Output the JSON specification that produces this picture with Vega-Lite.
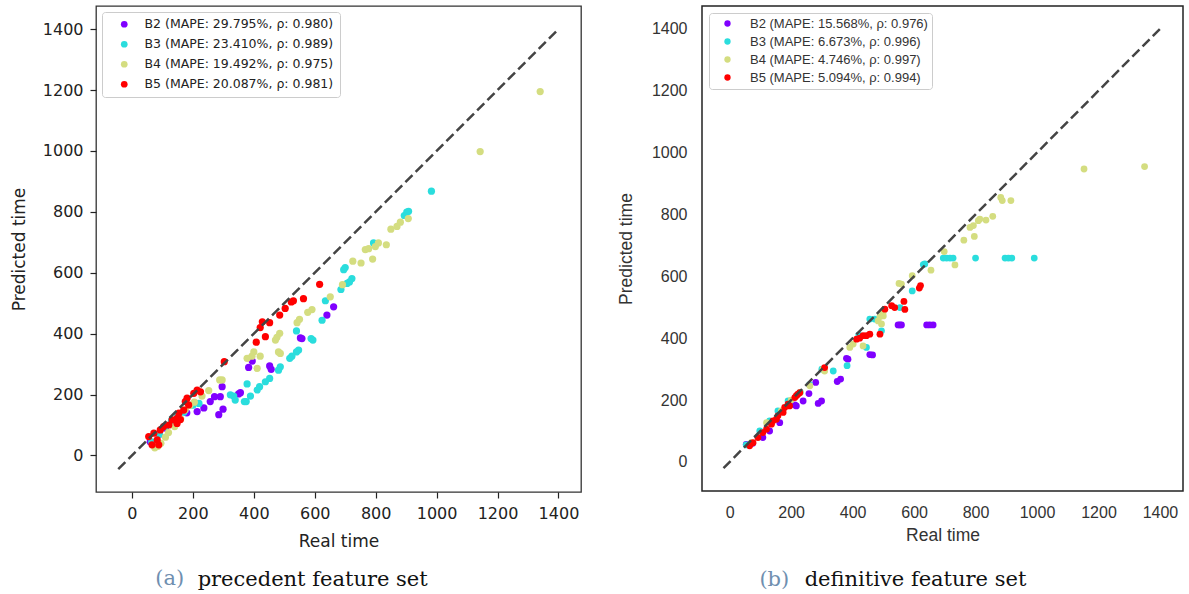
{
"$schema": "https://vega.github.io/schema/vega-lite/v6.json",
"background": "white",
"padding": {"left": 9, "top": 5, "right": 0, "bottom": 0},
"datasets": {
"a": [
{"x":662,"y":488,"s":"B2"},{"x":640,"y":461,"s":"B2"},{"x":553,"y":386,"s":"B2"},{"x":558,"y":384,"s":"B2"},{"x":395,"y":310,"s":"B2"},{"x":383,"y":289,"s":"B2"},{"x":452,"y":294,"s":"B2"},{"x":457,"y":283,"s":"B2"},{"x":356,"y":206,"s":"B2"},{"x":350,"y":202,"s":"B2"},{"x":296,"y":226,"s":"B2"},{"x":290,"y":193,"s":"B2"},{"x":271,"y":193,"s":"B2"},{"x":257,"y":177,"s":"B2"},{"x":236,"y":156,"s":"B2"},{"x":214,"y":144,"s":"B2"},{"x":299,"y":152,"s":"B2"},{"x":285,"y":134,"s":"B2"},{"x":60,"y":45,"s":"B2"},{"x":90,"y":70,"s":"B2"},{"x":110,"y":90,"s":"B2"},{"x":150,"y":115,"s":"B2"},{"x":180,"y":140,"s":"B2"},
{"x":983,"y":868,"s":"B3"},{"x":902,"y":799,"s":"B3"},{"x":908,"y":802,"s":"B3"},{"x":894,"y":788,"s":"B3"},{"x":793,"y":698,"s":"B3"},{"x":700,"y":617,"s":"B3"},{"x":695,"y":610,"s":"B3"},{"x":722,"y":581,"s":"B3"},{"x":714,"y":570,"s":"B3"},{"x":706,"y":565,"s":"B3"},{"x":686,"y":545,"s":"B3"},{"x":635,"y":508,"s":"B3"},{"x":624,"y":444,"s":"B3"},{"x":540,"y":409,"s":"B3"},{"x":588,"y":384,"s":"B3"},{"x":594,"y":379,"s":"B3"},{"x":547,"y":346,"s":"B3"},{"x":540,"y":340,"s":"B3"},{"x":525,"y":326,"s":"B3"},{"x":518,"y":319,"s":"B3"},{"x":487,"y":291,"s":"B3"},{"x":481,"y":280,"s":"B3"},{"x":452,"y":253,"s":"B3"},{"x":438,"y":242,"s":"B3"},{"x":419,"y":226,"s":"B3"},{"x":411,"y":215,"s":"B3"},{"x":389,"y":195,"s":"B3"},{"x":375,"y":177,"s":"B3"},{"x":369,"y":177,"s":"B3"},{"x":378,"y":235,"s":"B3"},{"x":334,"y":195,"s":"B3"},{"x":323,"y":199,"s":"B3"},{"x":339,"y":182,"s":"B3"},{"x":200,"y":165,"s":"B3"},{"x":220,"y":171,"s":"B3"},{"x":170,"y":142,"s":"B3"},{"x":150,"y":135,"s":"B3"},{"x":130,"y":115,"s":"B3"},{"x":110,"y":95,"s":"B3"},{"x":90,"y":70,"s":"B3"},{"x":65,"y":45,"s":"B3"},
{"x":1340,"y":1195,"s":"B4"},{"x":1143,"y":998,"s":"B4"},{"x":907,"y":778,"s":"B4"},{"x":881,"y":766,"s":"B4"},{"x":870,"y":752,"s":"B4"},{"x":850,"y":743,"s":"B4"},{"x":835,"y":692,"s":"B4"},{"x":809,"y":698,"s":"B4"},{"x":799,"y":686,"s":"B4"},{"x":777,"y":679,"s":"B4"},{"x":766,"y":676,"s":"B4"},{"x":790,"y":645,"s":"B4"},{"x":752,"y":632,"s":"B4"},{"x":725,"y":638,"s":"B4"},{"x":691,"y":561,"s":"B4"},{"x":651,"y":521,"s":"B4"},{"x":591,"y":479,"s":"B4"},{"x":577,"y":470,"s":"B4"},{"x":550,"y":447,"s":"B4"},{"x":542,"y":436,"s":"B4"},{"x":485,"y":401,"s":"B4"},{"x":476,"y":388,"s":"B4"},{"x":471,"y":379,"s":"B4"},{"x":481,"y":340,"s":"B4"},{"x":487,"y":335,"s":"B4"},{"x":400,"y":340,"s":"B4"},{"x":394,"y":326,"s":"B4"},{"x":378,"y":319,"s":"B4"},{"x":421,"y":326,"s":"B4"},{"x":411,"y":286,"s":"B4"},{"x":296,"y":248,"s":"B4"},{"x":288,"y":248,"s":"B4"},{"x":252,"y":213,"s":"B4"},{"x":230,"y":195,"s":"B4"},{"x":205,"y":175,"s":"B4"},{"x":190,"y":165,"s":"B4"},{"x":175,"y":150,"s":"B4"},{"x":160,"y":120,"s":"B4"},{"x":140,"y":95,"s":"B4"},{"x":120,"y":75,"s":"B4"},{"x":110,"y":60,"s":"B4"},{"x":95,"y":40,"s":"B4"},{"x":85,"y":30,"s":"B4"},{"x":75,"y":25,"s":"B4"},
{"x":616,"y":562,"s":"B5"},{"x":563,"y":515,"s":"B5"},{"x":523,"y":504,"s":"B5"},{"x":530,"y":508,"s":"B5"},{"x":503,"y":483,"s":"B5"},{"x":485,"y":461,"s":"B5"},{"x":452,"y":436,"s":"B5"},{"x":428,"y":439,"s":"B5"},{"x":421,"y":420,"s":"B5"},{"x":438,"y":390,"s":"B5"},{"x":408,"y":372,"s":"B5"},{"x":303,"y":308,"s":"B5"},{"x":225,"y":209,"s":"B5"},{"x":214,"y":215,"s":"B5"},{"x":203,"y":204,"s":"B5"},{"x":181,"y":188,"s":"B5"},{"x":175,"y":177,"s":"B5"},{"x":186,"y":166,"s":"B5"},{"x":170,"y":149,"s":"B5"},{"x":154,"y":139,"s":"B5"},{"x":148,"y":122,"s":"B5"},{"x":132,"y":117,"s":"B5"},{"x":121,"y":100,"s":"B5"},{"x":104,"y":95,"s":"B5"},{"x":93,"y":84,"s":"B5"},{"x":72,"y":73,"s":"B5"},{"x":55,"y":62,"s":"B5"},{"x":83,"y":51,"s":"B5"},{"x":66,"y":35,"s":"B5"},{"x":88,"y":35,"s":"B5"},{"x":148,"y":105,"s":"B5"},{"x":159,"y":118,"s":"B5"}
],
"b": [
{"x":554,"y":443,"s":"B2"},{"x":559,"y":443,"s":"B2"},{"x":548,"y":443,"s":"B2"},{"x":641,"y":443,"s":"B2"},{"x":651,"y":443,"s":"B2"},{"x":662,"y":443,"s":"B2"},{"x":456,"y":347,"s":"B2"},{"x":465,"y":346,"s":"B2"},{"x":385,"y":332,"s":"B2"},{"x":380,"y":335,"s":"B2"},{"x":361,"y":268,"s":"B2"},{"x":350,"y":260,"s":"B2"},{"x":299,"y":197,"s":"B2"},{"x":288,"y":189,"s":"B2"},{"x":280,"y":257,"s":"B2"},{"x":258,"y":221,"s":"B2"},{"x":239,"y":197,"s":"B2"},{"x":212,"y":184,"s":"B2"},{"x":163,"y":127,"s":"B2"},{"x":108,"y":79,"s":"B2"},{"x":54,"y":57,"s":"B2"},{"x":217,"y":181,"s":"B2"},{"x":130,"y":100,"s":"B2"},{"x":75,"y":60,"s":"B2"},
{"x":695,"y":659,"s":"B3"},{"x":706,"y":659,"s":"B3"},{"x":717,"y":659,"s":"B3"},{"x":727,"y":659,"s":"B3"},{"x":800,"y":659,"s":"B3"},{"x":896,"y":659,"s":"B3"},{"x":907,"y":659,"s":"B3"},{"x":918,"y":659,"s":"B3"},{"x":991,"y":659,"s":"B3"},{"x":630,"y":638,"s":"B3"},{"x":635,"y":640,"s":"B3"},{"x":594,"y":553,"s":"B3"},{"x":554,"y":499,"s":"B3"},{"x":494,"y":424,"s":"B3"},{"x":445,"y":370,"s":"B3"},{"x":382,"y":311,"s":"B3"},{"x":337,"y":294,"s":"B3"},{"x":456,"y":462,"s":"B3"},{"x":472,"y":462,"s":"B3"},{"x":190,"y":197,"s":"B3"},{"x":157,"y":165,"s":"B3"},{"x":130,"y":133,"s":"B3"},{"x":98,"y":100,"s":"B3"},{"x":54,"y":55,"s":"B3"},{"x":230,"y":225,"s":"B3"},{"x":260,"y":250,"s":"B3"},{"x":300,"y":300,"s":"B3"},{"x":420,"y":410,"s":"B3"},
{"x":1153,"y":947,"s":"B4"},{"x":1350,"y":955,"s":"B4"},{"x":882,"y":855,"s":"B4"},{"x":887,"y":845,"s":"B4"},{"x":915,"y":845,"s":"B4"},{"x":856,"y":794,"s":"B4"},{"x":834,"y":782,"s":"B4"},{"x":814,"y":785,"s":"B4"},{"x":809,"y":780,"s":"B4"},{"x":793,"y":764,"s":"B4"},{"x":782,"y":758,"s":"B4"},{"x":796,"y":729,"s":"B4"},{"x":762,"y":717,"s":"B4"},{"x":698,"y":680,"s":"B4"},{"x":733,"y":637,"s":"B4"},{"x":655,"y":620,"s":"B4"},{"x":594,"y":602,"s":"B4"},{"x":551,"y":577,"s":"B4"},{"x":559,"y":575,"s":"B4"},{"x":500,"y":472,"s":"B4"},{"x":483,"y":456,"s":"B4"},{"x":489,"y":470,"s":"B4"},{"x":499,"y":483,"s":"B4"},{"x":494,"y":446,"s":"B4"},{"x":391,"y":370,"s":"B4"},{"x":402,"y":381,"s":"B4"},{"x":434,"y":375,"s":"B4"},{"x":304,"y":300,"s":"B4"},{"x":309,"y":294,"s":"B4"},{"x":261,"y":246,"s":"B4"},{"x":120,"y":127,"s":"B4"},{"x":168,"y":165,"s":"B4"},{"x":71,"y":62,"s":"B4"},{"x":200,"y":200,"s":"B4"},{"x":230,"y":225,"s":"B4"},
{"x":621,"y":570,"s":"B5"},{"x":617,"y":562,"s":"B5"},{"x":567,"y":519,"s":"B5"},{"x":570,"y":493,"s":"B5"},{"x":537,"y":499,"s":"B5"},{"x":527,"y":505,"s":"B5"},{"x":505,"y":494,"s":"B5"},{"x":489,"y":413,"s":"B5"},{"x":445,"y":408,"s":"B5"},{"x":423,"y":400,"s":"B5"},{"x":413,"y":397,"s":"B5"},{"x":456,"y":413,"s":"B5"},{"x":434,"y":408,"s":"B5"},{"x":309,"y":305,"s":"B5"},{"x":228,"y":224,"s":"B5"},{"x":217,"y":214,"s":"B5"},{"x":195,"y":181,"s":"B5"},{"x":174,"y":160,"s":"B5"},{"x":152,"y":138,"s":"B5"},{"x":136,"y":122,"s":"B5"},{"x":120,"y":106,"s":"B5"},{"x":108,"y":95,"s":"B5"},{"x":92,"y":79,"s":"B5"},{"x":76,"y":62,"s":"B5"},{"x":65,"y":52,"s":"B5"},{"x":222,"y":219,"s":"B5"},{"x":212,"y":208,"s":"B5"},{"x":190,"y":187,"s":"B5"},{"x":179,"y":176,"s":"B5"},{"x":157,"y":149,"s":"B5"},{"x":141,"y":133,"s":"B5"}
]
},
"hconcat": [
{
"title": {"text": "precedent feature set", "orient": "bottom", "anchor": "start", "dx": 188, "dy": -21, "offset": 0, "font": "DejaVu Serif", "fontSize": 21, "fontWeight": "normal", "color": "#111111"},
"vconcat": [
{
"width": 485, "height": 486,
"view": {"stroke": "#333333", "strokeWidth": 1.3},
"title": {"text": "(a)", "orient": "bottom", "anchor": "start", "dx": 145, "offset": 19, "font": "DejaVu Serif", "fontSize": 21, "fontWeight": "normal", "color": "#6f8fb0"},
"layer": [
{
"data": {"name": "a"},
"mark": {"type": "circle", "size": 52, "opacity": 1},
"encoding": {
"x": {"field": "x", "type": "quantitative", "title": "Real time", "scale": {"domain": [-118, 1474], "nice": false, "zero": false},
"axis": {"values": [0,200,400,600,800,1000,1200,1400], "format": "d", "domain": false, "grid": false, "tickSize": 6, "tickWidth": 1.2, "tickColor": "#222222", "labelFont": "DejaVu Sans", "labelFontSize": 16, "labelColor": "#222222", "labelPadding": 7, "labelFlush": false, "labelOverlap": false, "titleFont": "DejaVu Sans", "titleFontSize": 17, "titleFontWeight": "normal", "titleColor": "#222222", "titlePadding": 12}},
"y": {"field": "y", "type": "quantitative", "title": "Predicted time", "scale": {"domain": [-120, 1476], "nice": false, "zero": false},
"axis": {"values": [0,200,400,600,800,1000,1200,1400], "format": "d", "domain": false, "grid": false, "tickSize": 6, "tickWidth": 1.2, "tickColor": "#222222", "labelFont": "DejaVu Sans", "labelFontSize": 16, "labelColor": "#222222", "labelPadding": 7, "labelFlush": false, "labelOverlap": false, "titleFont": "DejaVu Sans", "titleFontSize": 17, "titleFontWeight": "normal", "titleColor": "#222222", "titlePadding": 14}},
"color": {"field": "s", "type": "nominal",
"scale": {"domain": ["B2","B3","B4","B5"], "range": ["#8000ff","#2adddd","#d4dd80","#ff0000"]},
"legend": {"title": null, "orient": "top-left", "offset": 6, "padding": 6, "symbolOffset": 10, "labelOffset": 14, "rowPadding": 7, "fillColor": "rgba(255,255,255,0.85)", "strokeColor": "#cccccc", "cornerRadius": 3, "symbolType": "circle", "symbolSize": 45, "symbolStrokeWidth": 0, "symbolOpacity": 1, "labelFont": "DejaVu Sans", "labelFontSize": 12.5, "labelColor": "#222222", "labelLimit": 400,
"labelExpr": "{'B2':'B2 (MAPE: 29.795%, ρ: 0.980)','B3':'B3 (MAPE: 23.410%, ρ: 0.989)','B4':'B4 (MAPE: 19.492%, ρ: 0.975)','B5':'B5 (MAPE: 20.087%, ρ: 0.981)'}[datum.label]"}}
}
},
{
"data": {"values": [{"x": -45, "y": -45}, {"x": 1400, "y": 1400}]},
"mark": {"type": "line", "color": "#444444", "strokeWidth": 2.5, "strokeDash": [10, 4.5]},
"encoding": {
"x": {"field": "x", "type": "quantitative", "title": "Real time", "scale": {"domain": [-118, 1474], "nice": false, "zero": false}},
"y": {"field": "y", "type": "quantitative", "title": "Predicted time", "scale": {"domain": [-120, 1476], "nice": false, "zero": false}}
}
}
]
}
]
},
{
"title": {"text": "definitive feature set", "orient": "bottom", "anchor": "start", "dx": 188, "dy": -21, "offset": 0, "font": "DejaVu Serif", "fontSize": 21, "fontWeight": "normal", "color": "#111111"},
"vconcat": [
{
"width": 481, "height": 485,
"view": {"stroke": "#222222", "strokeWidth": 1.5},
"title": {"text": "(b)", "orient": "bottom", "anchor": "start", "dx": 142, "offset": 25, "font": "DejaVu Serif", "fontSize": 21, "fontWeight": "normal", "color": "#6f8fb0"},
"layer": [
{
"data": {"name": "b"},
"mark": {"type": "circle", "size": 46, "opacity": 1},
"encoding": {
"x": {"field": "x", "type": "quantitative", "title": "Real time", "scale": {"domain": [-90, 1475], "nice": false, "zero": false},
"axis": {"values": [0,200,400,600,800,1000,1200,1400], "format": "d", "domain": false, "grid": false, "ticks": false, "labelFont": "Liberation Sans", "labelFontSize": 16, "labelColor": "#333333", "labelPadding": 13, "labelFlush": false, "labelOverlap": false, "titleFont": "Liberation Sans", "titleFontSize": 17.5, "titleFontWeight": "normal", "titleColor": "#333333", "titlePadding": 6}},
"y": {"field": "y", "type": "quantitative", "title": "Predicted time", "scale": {"domain": [-94, 1474], "nice": false, "zero": false},
"axis": {"values": [0,200,400,600,800,1000,1200,1400], "format": "d", "domain": false, "grid": false, "ticks": false, "labelFont": "Liberation Sans", "labelFontSize": 16, "labelColor": "#333333", "labelPadding": 15, "labelFlush": false, "labelOverlap": false, "titleFont": "Liberation Sans", "titleFontSize": 17.5, "titleFontWeight": "normal", "titleColor": "#333333", "titlePadding": 16}},
"color": {"field": "s", "type": "nominal",
"scale": {"domain": ["B2","B3","B4","B5"], "range": ["#8000ff","#2adddd","#d4dd80","#ff0000"]},
"legend": {"title": null, "orient": "top-left", "offset": 7, "padding": 4, "symbolOffset": 8, "labelOffset": 16, "rowPadding": 4, "fillColor": "rgba(255,255,255,0.85)", "strokeColor": "#cccccc", "cornerRadius": 3, "symbolType": "circle", "symbolSize": 40, "symbolStrokeWidth": 0, "symbolOpacity": 1, "labelFont": "Liberation Sans", "labelFontSize": 13, "labelColor": "#333333", "labelLimit": 400,
"labelExpr": "{'B2':'B2 (MAPE: 15.568%, ρ: 0.976)','B3':'B3 (MAPE: 6.673%, ρ: 0.996)','B4':'B4 (MAPE: 4.746%, ρ: 0.997)','B5':'B5 (MAPE: 5.094%, ρ: 0.994)'}[datum.label]"}}
}
},
{
"data": {"values": [{"x": -20, "y": -20}, {"x": 1400, "y": 1400}]},
"mark": {"type": "line", "color": "#444444", "strokeWidth": 2.5, "strokeDash": [10, 4.5]},
"encoding": {
"x": {"field": "x", "type": "quantitative", "title": "Real time", "scale": {"domain": [-90, 1475], "nice": false, "zero": false}},
"y": {"field": "y", "type": "quantitative", "title": "Predicted time", "scale": {"domain": [-94, 1474], "nice": false, "zero": false}}
}
}
]
}
]
}
],
"spacing": 34,
"resolve": {"scale": {"color": "independent", "x": "independent", "y": "independent"}, "legend": {"color": "independent"}},
"config": {"axis": {"grid": false}}
}
